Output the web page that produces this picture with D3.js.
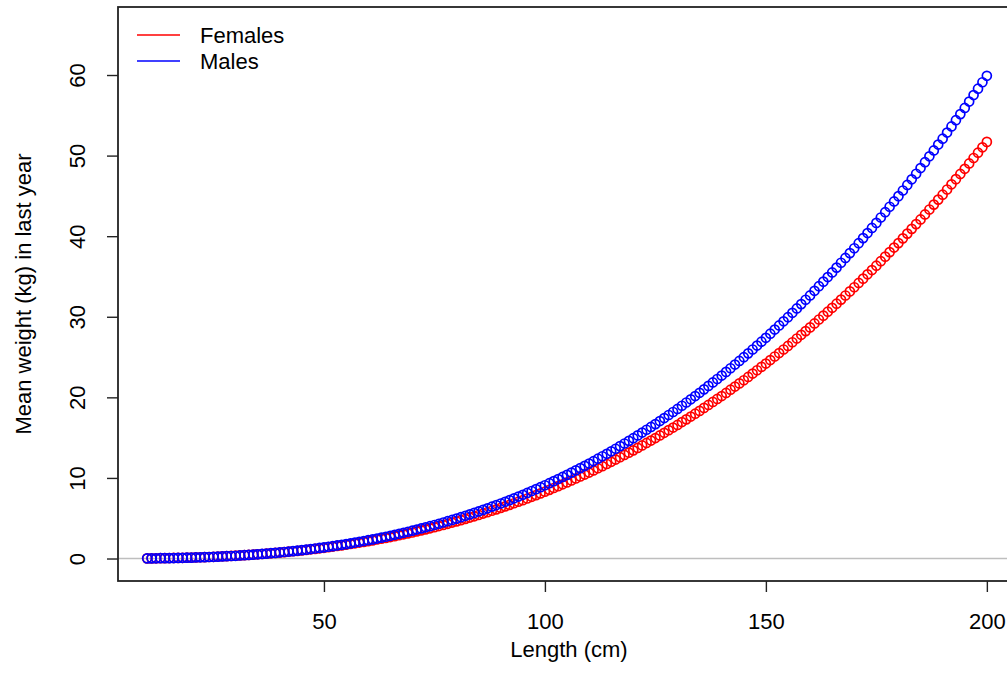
<!DOCTYPE html>
<html>
<head>
<meta charset="utf-8">
<script src="https://cdn.jsdelivr.net/npm/d3@7"></script>
<style>
  body { margin: 0; background: #fff; }
  text { font-family: "Liberation Sans", Arial, sans-serif; fill: #000; }
</style>
</head>
<body>
<script>
// length classes (cm)
const lengths = [10,11,12,13,14,15,16,17,18,19,20,21,22,23,24,25,26,27,28,29,30,31,32,33,34,35,36,37,38,39,
  40,41,42,43,44,45,46,47,48,49,50,51,52,53,54,55,56,57,58,59,60,61,62,63,64,65,66,67,68,69,
  70,71,72,73,74,75,76,77,78,79,80,81,82,83,84,85,86,87,88,89,90,91,92,93,94,95,96,97,98,99,
  100,101,102,103,104,105,106,107,108,109,110,111,112,113,114,115,116,117,118,119,
  120,121,122,123,124,125,126,127,128,129,130,131,132,133,134,135,136,137,138,139,
  140,141,142,143,144,145,146,147,148,149,150,151,152,153,154,155,156,157,158,159,
  160,161,162,163,164,165,166,167,168,169,170,171,172,173,174,175,176,177,178,179,
  180,181,182,183,184,185,186,187,188,189,190,191,192,193,194,195,196,197,198,199,200]

// mean weight (kg)
const femaleWeight = [0.02,0.02,0.03,0.04,0.05,0.06,0.07,0.08,0.09,0.10,0.12,0.14,0.16,0.17,0.19,0.21,0.24,0.27,0.29,0.32,
  0.35,0.38,0.41,0.45,0.48,0.52,0.56,0.61,0.65,0.69,0.74,0.79,0.85,0.90,0.95,1.01,1.07,1.14,1.20,1.27,
  1.33,1.41,1.48,1.56,1.63,1.71,1.80,1.89,1.98,2.06,2.15,2.25,2.36,2.46,2.56,2.66,2.77,2.89,3.00,3.12,
  3.23,3.36,3.49,3.62,3.75,3.88,4.03,4.17,4.31,4.46,4.60,4.76,4.92,5.08,5.24,5.40,5.58,5.75,5.93,6.10,
  6.28,6.47,6.66,6.86,7.05,7.24,7.45,7.66,7.87,8.08,8.29,8.52,8.75,8.98,9.21,9.44,9.68,9.93,10.18,10.42,
  10.67,10.93,11.20,11.46,11.73,12.00,12.28,12.57,12.85,13.14,13.42,13.73,14.03,14.34,14.64,14.95,15.27,15.60,15.93,16.25,
  16.58,16.93,17.27,17.62,17.97,18.32,18.69,19.06,19.43,19.80,20.16,20.55,20.95,21.34,21.73,22.12,22.53,22.95,23.36,23.78,
  24.19,24.63,25.07,25.50,25.94,26.38,26.84,27.30,27.76,28.22,28.68,29.17,29.66,30.14,30.63,31.11,31.62,32.13,32.64,33.15,
  33.66,34.20,34.73,35.27,35.80,36.34,36.90,37.46,38.02,38.59,39.14,39.73,40.32,40.91,41.50,42.08,42.70,43.31,43.92,44.54,
  45.15,45.79,46.44,47.08,47.72,48.36,49.03,49.70,50.36,51.03,51.70]

const maleWeight = [0.02,0.02,0.03,0.04,0.04,0.05,0.06,0.08,0.09,0.10,0.11,0.13,0.15,0.17,0.19,0.21,0.23,0.26,0.29,0.31,
  0.34,0.38,0.41,0.45,0.48,0.52,0.57,0.61,0.66,0.70,0.75,0.81,0.86,0.92,0.98,1.04,1.10,1.17,1.24,1.31,
  1.38,1.46,1.54,1.62,1.70,1.79,1.88,1.98,2.07,2.17,2.27,2.37,2.48,2.59,2.70,2.82,2.94,3.07,3.19,3.32,
  3.45,3.59,3.73,3.87,4.01,4.16,4.31,4.47,4.63,4.79,4.95,5.13,5.30,5.48,5.66,5.84,6.04,6.23,6.43,6.63,
  6.83,7.04,7.25,7.47,7.69,7.91,8.14,8.38,8.61,8.85,9.09,9.35,9.60,9.86,10.12,10.38,10.66,10.94,11.22,11.50,
  11.78,12.08,12.39,12.69,12.99,13.30,13.62,13.95,14.27,14.60,14.93,15.28,15.63,15.98,16.33,16.68,17.06,17.43,17.81,18.18,
  18.56,18.96,19.36,19.76,20.16,20.56,20.99,21.42,21.85,22.28,22.70,23.16,23.61,24.07,24.52,24.98,25.46,25.94,26.43,26.91,
  27.39,27.90,28.41,28.92,29.44,29.95,30.49,31.03,31.57,32.11,32.65,33.22,33.79,34.36,34.93,35.50,36.10,36.70,37.30,37.90,
  38.50,39.13,39.76,40.39,41.02,41.65,42.32,42.98,43.65,44.31,44.97,45.67,46.36,47.06,47.75,48.45,49.18,49.91,50.64,51.37,
  52.10,52.86,53.62,54.39,55.15,55.91,56.71,57.51,58.30,59.10,59.90]

const xTicks = [50, 100, 150, 200]
const yTicks = [0, 10, 20, 30, 40, 50, 60]

const series = [
  { name: 'Females', color: '#ff0000', values: femaleWeight },
  { name: 'Males', color: '#0000ff', values: maleWeight }
]

const width = 1007, height = 691
const plot = { left: 118, right: 1020, top: 7, bottom: 581 }
const fontSize = 22

const svg = d3.select('body')
  .append('svg')
  .attr('width', width)
  .attr('height', height)

const x = d3.scaleLinear().domain([3.4, 207.5]).range([plot.left, plot.right])
const y = d3.scaleLinear().domain([-2.79, 68.44]).range([plot.bottom, plot.top])

// grey reference line at zero
svg.append('line')
  .attr('x1', plot.left).attr('x2', plot.right)
  .attr('y1', y(0)).attr('y2', y(0))
  .attr('stroke', '#bebebe')
  .attr('stroke-width', 1.5)

// points, females underneath
series.forEach(s => {
  svg.append('g')
    .selectAll('circle')
    .data(lengths.map((l, i) => [l, s.values[i]]))
    .enter().append('circle')
      .attr('cx', d => x(d[0]))
      .attr('cy', d => y(d[1]))
      .attr('r', 4.5)
      .attr('fill', 'none')
      .attr('stroke', s.color)
      .attr('stroke-width', 1.7)
})

// box
svg.append('rect')
  .attr('x', plot.left).attr('y', plot.top)
  .attr('width', plot.right - plot.left)
  .attr('height', plot.bottom - plot.top)
  .attr('fill', 'none')
  .attr('stroke', '#222')
  .attr('stroke-width', 1.8)

// x axis
const xAxis = svg.append('g')
  .attr('transform', `translate(0,${plot.bottom})`)
  .call(d3.axisBottom(x).tickValues(xTicks).tickSize(11).tickFormat(d3.format('d')))
xAxis.select('.domain').remove()
xAxis.selectAll('line').attr('stroke', '#222').attr('stroke-width', 1.4)
xAxis.selectAll('text')
  .attr('y', 48)
  .attr('dy', null)
  .style('font-size', fontSize + 'px')
  .style('font-family', '"Liberation Sans", Arial, sans-serif')

// y axis, labels turned parallel to the axis
const yAxis = svg.append('g')
  .attr('transform', `translate(${plot.left},0)`)
  .call(d3.axisLeft(y).tickValues(yTicks).tickSize(11).tickFormat(d3.format('d')))
yAxis.select('.domain').remove()
yAxis.selectAll('line').attr('stroke', '#222').attr('stroke-width', 1.4)
yAxis.selectAll('text')
  .attr('x', null).attr('dy', null)
  .attr('text-anchor', 'middle')
  .attr('transform', 'translate(-33,0) rotate(-90)')
  .style('font-size', fontSize + 'px')
  .style('font-family', '"Liberation Sans", Arial, sans-serif')

// axis titles, centred on the plot region
svg.append('text')
  .attr('x', (plot.left + plot.right) / 2).attr('y', 657)
  .attr('text-anchor', 'middle')
  .style('font-size', fontSize + 'px')
  .text('Length (cm)')

svg.append('text')
  .attr('transform', `translate(31,${(plot.top + plot.bottom) / 2}) rotate(-90)`)
  .attr('text-anchor', 'middle')
  .style('font-size', fontSize + 'px')
  .text('Mean weight (kg) in last year')

// legend
const legend = svg.append('g').selectAll('g')
  .data(series)
  .enter().append('g')
    .attr('transform', (d, i) => `translate(137,${35 + i * 26})`)

legend.append('line')
  .attr('x1', 0).attr('x2', 43)
  .attr('stroke', d => d.color)
  .attr('stroke-width', 1.5)

legend.append('text')
  .attr('x', 63).attr('y', 8)
  .style('font-size', fontSize + 'px')
  .text(d => d.name)
</script>
</body>
</html>
